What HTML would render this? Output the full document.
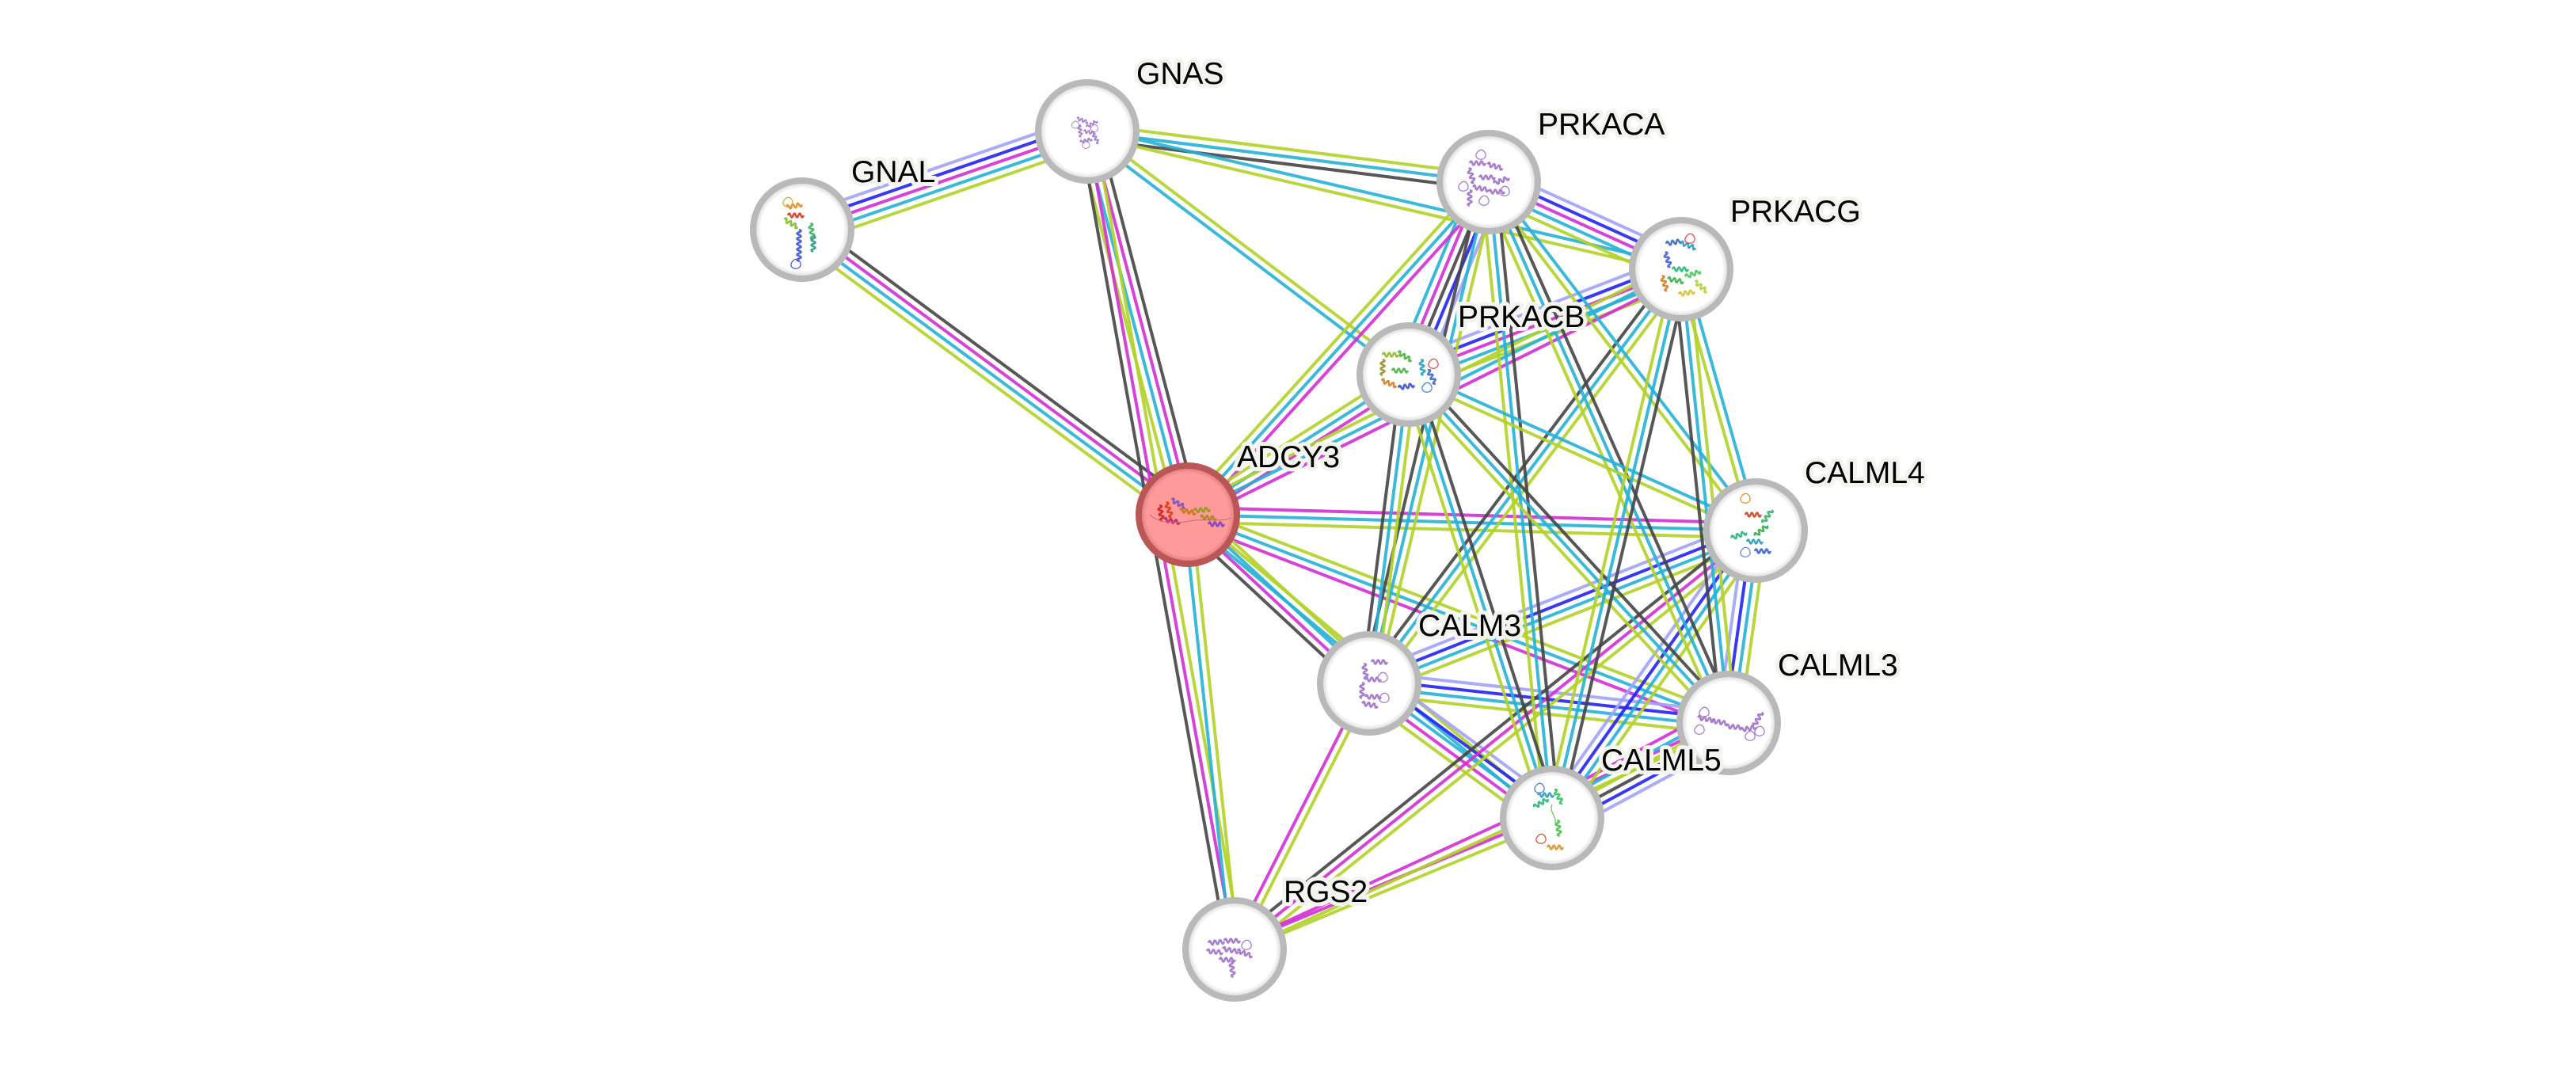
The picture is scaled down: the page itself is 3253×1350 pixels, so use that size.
<!DOCTYPE html>
<html><head><meta charset="utf-8"><style>
html,body{margin:0;padding:0;background:#fff;}
svg{display:block;}
.e line{stroke-width:4;stroke-opacity:.9;}
.g{stroke:#b3d12a}.c{stroke:#27b1d4}.m{stroke:#d02fd3}.k{stroke:#454545}.b{stroke:#2222f4}.l{stroke:#a2a2fc}
.lab{font-family:"Liberation Sans",Arial,sans-serif;font-size:39px;fill:#000;stroke:#f4f4ef;stroke-width:10;stroke-linejoin:round;paint-order:stroke;}
</style></head><body>
<svg width="3253" height="1350" viewBox="0 0 3253 1350" xmlns="http://www.w3.org/2000/svg">
<defs>
<radialGradient id="ng"><stop offset="0.84" stop-color="#ffffff"/><stop offset="0.935" stop-color="#e0e0e0"/></radialGradient>
<radialGradient id="ag"><stop offset="0.84" stop-color="#ff9a9a"/><stop offset="0.935" stop-color="#e58282"/></radialGradient>
<path id="hx" d="M-10 0q1.7-5 3.3 0t3.3 0t3.3 0t3.3 0t3.3 0t3.3 0" fill="none" stroke-width="2.6"/>
<path id="lp" d="M-8 -4c6-8 14 4 8 8s-14-2-8-8" fill="none" stroke-width="1.3"/>
</defs>
<rect width="3253" height="1350" fill="#fff"/>

<g class="e">
<!-- GNAL-GNAS -->
<g transform="translate(1013 290) rotate(-19.0)"><line x2="380.8" y1="-18.6" y2="-18.6" class="l"/><line x2="380.8" y1="-9.3" y2="-9.3" class="b"/><line x2="380.8" class="m"/><line x2="380.8" y1="9.3" y2="9.3" class="c"/><line x2="380.8" y1="18.6" y2="18.6" class="g"/></g>
<!-- GNAL-ADCY3 -->
<g transform="translate(1013 290) rotate(36.47)"><line x2="605.6" y1="-13.95" y2="-13.95" class="k"/><line x2="605.6" y1="-4.65" y2="-4.65" class="m"/><line x2="605.6" y1="4.65" y2="4.65" class="c"/><line x2="605.6" y1="13.95" y2="13.95" class="g"/></g>
<!-- GNAS-ADCY3 -->
<g transform="translate(1373 166) rotate(75.30)"><line x2="500.4" y1="-13.95" y2="-13.95" class="k"/><line x2="500.4" y1="-4.65" y2="-4.65" class="m"/><line x2="500.4" y1="4.65" y2="4.65" class="c"/><line x2="500.4" y1="13.95" y2="13.95" class="g"/></g>
<!-- GNAS-RGS2 -->
<g transform="translate(1373 166) rotate(79.79)"><line x2="1049.6" y1="-9.3" y2="-9.3" class="g"/><line x2="1049.6" class="m"/><line x2="1049.6" y1="9.3" y2="9.3" class="k"/></g>
<!-- ADCY3-RGS2 -->
<g transform="translate(1500 650) rotate(83.87)"><line x2="552.2" y1="-4.65" y2="-4.65" class="g"/><line x2="552.2" y1="4.65" y2="4.65" class="c"/></g>
<!-- GNAS-PRKACA -->
<g transform="translate(1373 166) rotate(7.19)"><line x2="511" y1="-9.3" y2="-9.3" class="g"/><line x2="511" class="c"/><line x2="511" y1="9.3" y2="9.3" class="k"/></g>
<!-- GNAS-PRKACG -->
<g transform="translate(1373 166) rotate(13.06)"><line x2="769.9" y1="-4.65" y2="-4.65" class="c"/><line x2="769.9" y1="4.65" y2="4.65" class="g"/></g>
<!-- GNAS-PRKACB -->
<g transform="translate(1373 166) rotate(37.10)"><line x2="509" y1="-4.65" y2="-4.65" class="g"/><line x2="509" y1="4.65" y2="4.65" class="c"/></g>
<!-- PRKACA-PRKACG -->
<g transform="translate(1880 230) rotate(24.36)"><line x2="266.7" y1="-18.6" y2="-18.6" class="l"/><line x2="266.7" y1="-9.3" y2="-9.3" class="b"/><line x2="266.7" class="m"/><line x2="266.7" y1="9.3" y2="9.3" class="c"/><line x2="266.7" y1="18.6" y2="18.6" class="g"/></g>
<!-- PRKACB-PRKACG -->
<g transform="translate(1779 473) rotate(-21.14)"><line x2="368.8" y1="-18.6" y2="-18.6" class="l"/><line x2="368.8" y1="-9.3" y2="-9.3" class="b"/><line x2="368.8" class="m"/><line x2="368.8" y1="9.3" y2="9.3" class="c"/><line x2="368.8" y1="18.6" y2="18.6" class="g"/></g>
<!-- PRKACB-PRKACA -->
<g transform="translate(1779 473) rotate(-67.43)"><line x2="263.2" y1="-18.6" y2="-18.6" class="c"/><line x2="263.2" y1="-9.3" y2="-9.3" class="m"/><line x2="263.2" class="k"/><line x2="263.2" y1="9.3" y2="9.3" class="b"/><line x2="263.2" y1="18.6" y2="18.6" class="l"/></g>
<!-- ADCY3-PRKACA -->
<g transform="translate(1500 650) rotate(-47.86)"><line x2="566.4" y1="-9.3" y2="-9.3" class="g"/><line x2="566.4" class="c"/><line x2="566.4" y1="9.3" y2="9.3" class="m"/></g>
<!-- ADCY3-PRKACB -->
<g transform="translate(1500 650) rotate(-32.39)"><line x2="330.4" y1="-9.3" y2="-9.3" class="g"/><line x2="330.4" class="c"/><line x2="330.4" y1="9.3" y2="9.3" class="m"/></g>
<!-- ADCY3-PRKACG -->
<g transform="translate(1500 650) rotate(-26.45)"><line x2="695.9" y1="-9.3" y2="-9.3" class="g"/><line x2="695.9" class="c"/><line x2="695.9" y1="9.3" y2="9.3" class="m"/></g>
<!-- ADCY3-CALML4 -->
<g transform="translate(1500 650) rotate(1.60)"><line x2="717.3" y1="-9.3" y2="-9.3" class="m"/><line x2="717.3" class="c"/><line x2="717.3" y1="9.3" y2="9.3" class="g"/></g>
<!-- ADCY3-CALML3 -->
<g transform="translate(1500 650) rotate(21.06)"><line x2="731.9" y1="-9.3" y2="-9.3" class="g"/><line x2="731.9" class="c"/><line x2="731.9" y1="9.3" y2="9.3" class="m"/></g>
<!-- ADCY3-CALM3 -->
<g transform="translate(1500 650) rotate(42.93)"><line x2="312.7" y1="-13.95" y2="-13.95" class="g"/><line x2="312.7" y1="-4.65" y2="-4.65" class="c"/><line x2="312.7" y1="4.65" y2="4.65" class="m"/><line x2="312.7" y1="13.95" y2="13.95" class="k"/></g>
<!-- ADCY3-CALML5 -->
<g transform="translate(1500 650) rotate(39.78)"><line x2="598.6" y1="-4.65" y2="-4.65" class="g"/><line x2="598.6" y1="4.65" y2="4.65" class="c"/></g>
<!-- CALM3-CALML4 -->
<g transform="translate(1729 863) rotate(-21.58)"><line x2="524.8" y1="-13.95" y2="-13.95" class="l"/><line x2="524.8" y1="-4.65" y2="-4.65" class="b"/><line x2="524.8" y1="4.65" y2="4.65" class="c"/><line x2="524.8" y1="13.95" y2="13.95" class="g"/></g>
<!-- CALM3-CALML3 -->
<g transform="translate(1729 863) rotate(6.28)"><line x2="456.7" y1="-13.95" y2="-13.95" class="l"/><line x2="456.7" y1="-4.65" y2="-4.65" class="b"/><line x2="456.7" y1="4.65" y2="4.65" class="c"/><line x2="456.7" y1="13.95" y2="13.95" class="g"/></g>
<!-- CALM3-CALML5 -->
<g transform="translate(1729 863) rotate(36.35)"><line x2="286.8" y1="-18.6" y2="-18.6" class="l"/><line x2="286.8" y1="-9.3" y2="-9.3" class="b"/><line x2="286.8" class="c"/><line x2="286.8" y1="9.3" y2="9.3" class="m"/><line x2="286.8" y1="18.6" y2="18.6" class="g"/></g>
<!-- CALM3-PRKACA -->
<g transform="translate(1729 863) rotate(-76.58)"><line x2="650.8" y1="-9.3" y2="-9.3" class="k"/><line x2="650.8" class="c"/><line x2="650.8" y1="9.3" y2="9.3" class="g"/></g>
<!-- CALM3-PRKACB -->
<g transform="translate(1729 863) rotate(-82.69)"><line x2="393.2" y1="-9.3" y2="-9.3" class="k"/><line x2="393.2" class="c"/><line x2="393.2" y1="9.3" y2="9.3" class="g"/></g>
<!-- CALM3-PRKACG -->
<g transform="translate(1729 863) rotate(-53.01)"><line x2="654.8" y1="-9.3" y2="-9.3" class="k"/><line x2="654.8" class="c"/><line x2="654.8" y1="9.3" y2="9.3" class="g"/></g>
<!-- RGS2-CALM3 -->
<g transform="translate(1559 1199) rotate(-63.16)"><line x2="376.6" y1="-4.65" y2="-4.65" class="m"/><line x2="376.6" y1="4.65" y2="4.65" class="g"/></g>
<!-- RGS2-CALML4 -->
<g transform="translate(1559 1199) rotate(-38.80)"><line x2="844.3" y1="-9.3" y2="-9.3" class="k"/><line x2="844.3" class="m"/><line x2="844.3" y1="9.3" y2="9.3" class="g"/></g>
<!-- RGS2-CALML5 -->
<g transform="translate(1559 1199) rotate(-22.49)"><line x2="434" y1="-4.65" y2="-4.65" class="m"/><line x2="434" y1="4.65" y2="4.65" class="g"/></g>
<!-- RGS2-CALML3 -->
<g transform="translate(1559 1199) rotate(-24.63)"><line x2="686.4" y1="-4.65" y2="-4.65" class="m"/><line x2="686.4" y1="4.65" y2="4.65" class="g"/></g>
<!-- CALML5-CALML3 -->
<g transform="translate(1960 1033) rotate(-28.28)"><line x2="253.2" y1="-23.25" y2="-23.25" class="m"/><line x2="253.2" y1="-13.95" y2="-13.95" class="c"/><line x2="253.2" y1="-4.65" y2="-4.65" class="g"/><line x2="253.2" y1="4.65" y2="4.65" class="k"/><line x2="253.2" y1="13.95" y2="13.95" class="b"/><line x2="253.2" y1="23.25" y2="23.25" class="l"/></g>
<!-- CALML5-CALML4 -->
<g transform="translate(1960 1033) rotate(-54.70)"><line x2="444.8" y1="-13.95" y2="-13.95" class="l"/><line x2="444.8" y1="-4.65" y2="-4.65" class="b"/><line x2="444.8" y1="4.65" y2="4.65" class="c"/><line x2="444.8" y1="13.95" y2="13.95" class="g"/></g>
<!-- CALML3-CALML4 -->
<g transform="translate(2183 913) rotate(-82.04)"><line x2="245.4" y1="-13.95" y2="-13.95" class="l"/><line x2="245.4" y1="-4.65" y2="-4.65" class="b"/><line x2="245.4" y1="4.65" y2="4.65" class="c"/><line x2="245.4" y1="13.95" y2="13.95" class="g"/></g>
<!-- PRKACA-CALML4 -->
<g transform="translate(1880 230) rotate(52.55)"><line x2="554.2" y1="-4.65" y2="-4.65" class="c"/><line x2="554.2" y1="4.65" y2="4.65" class="g"/></g>
<!-- PRKACA-CALML3 -->
<g transform="translate(1880 230) rotate(66.07)"><line x2="747.2" y1="-9.3" y2="-9.3" class="k"/><line x2="747.2" class="c"/><line x2="747.2" y1="9.3" y2="9.3" class="g"/></g>
<!-- PRKACA-CALML5 -->
<g transform="translate(1880 230) rotate(84.31)"><line x2="807" y1="-9.3" y2="-9.3" class="k"/><line x2="807" class="c"/><line x2="807" y1="9.3" y2="9.3" class="g"/></g>
<!-- PRKACB-CALML4 -->
<g transform="translate(1779 473) rotate(24.22)"><line x2="480.3" y1="-4.65" y2="-4.65" class="c"/><line x2="480.3" y1="4.65" y2="4.65" class="g"/></g>
<!-- PRKACB-CALML3 -->
<g transform="translate(1779 473) rotate(47.44)"><line x2="597.3" y1="-9.3" y2="-9.3" class="k"/><line x2="597.3" class="c"/><line x2="597.3" y1="9.3" y2="9.3" class="g"/></g>
<!-- PRKACB-CALML5 -->
<g transform="translate(1779 473) rotate(72.09)"><line x2="588.5" y1="-9.3" y2="-9.3" class="k"/><line x2="588.5" class="c"/><line x2="588.5" y1="9.3" y2="9.3" class="g"/></g>
<!-- PRKACG-CALML4 -->
<g transform="translate(2123 340) rotate(74.10)"><line x2="343.1" y1="-4.65" y2="-4.65" class="c"/><line x2="343.1" y1="4.65" y2="4.65" class="g"/></g>
<!-- PRKACG-CALML3 -->
<g transform="translate(2123 340) rotate(84.02)"><line x2="576.1" y1="-9.3" y2="-9.3" class="g"/><line x2="576.1" class="c"/><line x2="576.1" y1="9.3" y2="9.3" class="k"/></g>
<!-- CALML5-PRKACG -->
<g transform="translate(1960 1033) rotate(-76.76)"><line x2="711.9" y1="-9.3" y2="-9.3" class="g"/><line x2="711.9" class="c"/><line x2="711.9" y1="9.3" y2="9.3" class="k"/></g>
</g>

<!-- nodes -->
<g stroke="#b9b9b9" stroke-width="8" fill="url(#ng)">
<circle cx="1373" cy="166" r="62"/>
<circle cx="1013" cy="290" r="62"/>
<circle cx="1880" cy="230" r="62"/>
<circle cx="2123" cy="340" r="62"/>
<circle cx="1779" cy="473" r="62"/>
<circle cx="2217" cy="670" r="62"/>
<circle cx="1729" cy="863" r="62"/>
<circle cx="2183" cy="913" r="62"/>
<circle cx="1960" cy="1033" r="62"/>
<circle cx="1559" cy="1199" r="62"/>
</g>
<circle cx="1500" cy="650" r="62" fill="url(#ag)" stroke="#ba5656" stroke-width="8"/>

<!-- protein glyphs -->
<!-- GNAS -->
<g transform="translate(1373 164) scale(0.75)" stroke="#a982cf">
<use href="#hx" transform="translate(-8 -16) rotate(20)"/><use href="#hx" transform="translate(8 -10) rotate(-30)"/><use href="#hx" transform="translate(-12 2) rotate(80)"/><use href="#hx" transform="translate(4 4) rotate(10)"/><use href="#hx" transform="translate(-2 18) rotate(-15)"/><use href="#hx" transform="translate(14 14) rotate(60)"/><use href="#lp" transform="translate(-16 -8)"/><use href="#lp" transform="translate(16 -2)"/><use href="#lp" transform="translate(2 26)"/>
</g>
<!-- GNAL -->
<g transform="translate(1013 296)">
<use href="#hx" stroke="#e49a3a" transform="translate(-10 -36) rotate(-10)"/><use href="#hx" stroke="#d94a3a" transform="translate(-8 -24) rotate(0)"/><use href="#hx" stroke="#8cc43e" transform="translate(-14 -14) rotate(30)"/><use href="#hx" stroke="#4bb877" transform="translate(12 -4) rotate(80)"/><use href="#hx" stroke="#3fa48e" transform="translate(14 12) rotate(90)"/><use href="#hx" stroke="#4f63d6" transform="translate(-4 4) rotate(90)"/><use href="#hx" stroke="#4f63d6" transform="translate(-4 24) rotate(90)"/><use href="#lp" stroke="#4f63d6" transform="translate(-4 38)"/><use href="#lp" stroke="#d8b048" transform="translate(-14 -40)"/>
</g>
<!-- PRKACA -->
<g transform="translate(1878 228)" stroke="#a77fcd">
<use href="#hx" transform="translate(-12 -22) rotate(0)"/><use href="#hx" transform="translate(10 -18) rotate(15)"/><use href="#hx" transform="translate(-20 -6) rotate(70)"/><use href="#hx" transform="translate(0 -4) rotate(0)"/><use href="#hx" transform="translate(18 0) rotate(-20)"/><use href="#hx" transform="translate(-8 10) rotate(10)"/><use href="#hx" transform="translate(12 14) rotate(0)"/><use href="#hx" transform="translate(-22 22) rotate(90)"/><use href="#lp" transform="translate(-26 8)"/><use href="#lp" transform="translate(26 14)"/><use href="#lp" transform="translate(0 26)"/><use href="#lp" transform="translate(-4 -32)"/>
</g>
<!-- PRKACG -->
<g transform="translate(2124 340)">
<use href="#hx" stroke="#4f74c8" transform="translate(-10 -34) rotate(-10)"/><use href="#hx" stroke="#3fa6c4" transform="translate(8 -30) rotate(20)"/><use href="#lp" stroke="#e05050" transform="translate(14 -38)"/><use href="#hx" stroke="#5870d8" transform="translate(-18 -12) rotate(70)"/><use href="#hx" stroke="#3fbd88" transform="translate(-2 0) rotate(0)"/><use href="#hx" stroke="#5ccc6a" transform="translate(14 6) rotate(-20)"/><use href="#hx" stroke="#4cb860" transform="translate(-8 14) rotate(10)"/><use href="#hx" stroke="#d98a3a" transform="translate(-22 18) rotate(70)"/><use href="#hx" stroke="#d9c84a" transform="translate(6 30) rotate(-10)"/><use href="#hx" stroke="#b8d84a" transform="translate(24 22) rotate(40)"/>
</g>
<!-- PRKACB -->
<g transform="translate(1782 470)">
<use href="#hx" stroke="#9abf3e" transform="translate(-26 -22) rotate(0)"/><use href="#hx" stroke="#5dbb55" transform="translate(-8 -20) rotate(30)"/><use href="#hx" stroke="#5dbb55" transform="translate(-14 -2) rotate(0)"/><use href="#hx" stroke="#a39a40" transform="translate(-36 -6) rotate(90)"/><use href="#hx" stroke="#d98a3a" transform="translate(-28 14) rotate(20)"/><use href="#hx" stroke="#4f5fd0" transform="translate(-6 18) rotate(-10)"/><use href="#hx" stroke="#3fa6c4" transform="translate(14 -6) rotate(80)"/><use href="#hx" stroke="#4b7ad0" transform="translate(26 6) rotate(60)"/><use href="#lp" stroke="#e05050" transform="translate(32 -10)"/><use href="#lp" stroke="#3f8ad0" transform="translate(24 20)"/>
</g>
<!-- ADCY3 -->
<g transform="translate(1500 650)">
<use href="#hx" stroke="#d22a2a" transform="translate(-34 -2) rotate(80)"/><use href="#hx" stroke="#e0451f" transform="translate(-24 -6) rotate(70)"/><use href="#hx" stroke="#c03070" transform="translate(-20 8) rotate(10)"/><use href="#hx" stroke="#8a58b8" transform="translate(-12 -14) rotate(30)"/><use href="#hx" stroke="#d07a20" transform="translate(0 -4) rotate(10)"/><use href="#hx" stroke="#9a9a2a" transform="translate(18 -6) rotate(-5)"/><use href="#hx" stroke="#b08a20" transform="translate(26 4) rotate(5)"/><use href="#hx" stroke="#8a4ab8" transform="translate(36 12) rotate(0)"/><path d="M-48 0c10 10 30 12 50 8s40 2 52-4" fill="none" stroke="#c07070" stroke-width="1"/>
</g>
<!-- CALML4 -->
<g transform="translate(2214 666)">
<use href="#lp" stroke="#d89a3a" transform="translate(-6 -36)"/><use href="#hx" stroke="#c85a3a" transform="translate(0 -16) rotate(0)"/><use href="#hx" stroke="#4fb87a" transform="translate(18 -14) rotate(-55)"/><use href="#hx" stroke="#48b060" transform="translate(10 4) rotate(-40)"/><use href="#hx" stroke="#3fbd88" transform="translate(-18 10) rotate(-20)"/><use href="#hx" stroke="#3fa6c4" transform="translate(2 18) rotate(0)"/><use href="#hx" stroke="#4f6fd0" transform="translate(12 30) rotate(0)"/><use href="#lp" stroke="#6a90d0" transform="translate(-6 32)"/>
</g>
<!-- CALM3 -->
<g transform="translate(1738 862)" stroke="#a77fcd">
<use href="#hx" transform="translate(4 -26) rotate(0)"/><use href="#hx" transform="translate(-14 -14) rotate(80)"/><use href="#hx" transform="translate(-4 -4) rotate(0)"/><use href="#hx" transform="translate(-18 10) rotate(90)"/><use href="#hx" transform="translate(-4 18) rotate(0)"/><use href="#hx" transform="translate(-8 28) rotate(10)"/><use href="#lp" transform="translate(12 -6)"/><use href="#lp" transform="translate(14 20)"/>
</g>
<!-- CALML3 -->
<g transform="translate(2186 914)" stroke="#a77fcd">
<use href="#hx" transform="translate(-32 -6) rotate(10)"/><use href="#hx" transform="translate(-14 -2) rotate(10)"/><use href="#hx" transform="translate(4 4) rotate(5)"/><use href="#hx" transform="translate(22 6) rotate(-10)"/><use href="#hx" transform="translate(34 -6) rotate(-60)"/><use href="#lp" transform="translate(-36 8)"/><use href="#lp" transform="translate(40 10)"/><use href="#lp" transform="translate(28 16)"/><use href="#lp" transform="translate(-30 -14)"/>
</g>
<!-- CALML5 -->
<g transform="translate(1958 1034)">
<use href="#lp" stroke="#4f84c8" transform="translate(-10 -38)"/><use href="#hx" stroke="#3fa6c4" transform="translate(-6 -30) rotate(0)"/><use href="#hx" stroke="#3fbd88" transform="translate(-12 -20) rotate(-30)"/><use href="#hx" stroke="#4cc870" transform="translate(10 -28) rotate(60)"/><path d="M2 -18c-4 10 6 14 4 26" fill="none" stroke="#6ac860" stroke-width="1.3"/><use href="#hx" stroke="#5cc460" transform="translate(10 12) rotate(80)"/><use href="#lp" stroke="#d05a3a" transform="translate(-8 26)"/><use href="#hx" stroke="#d8a040" transform="translate(6 36) rotate(0)"/>
</g>
<!-- RGS2 -->
<g transform="translate(1554 1202)" stroke="#a77fcd">
<use href="#hx" transform="translate(-18 -12) rotate(-5)"/><use href="#hx" transform="translate(2 -14) rotate(0)"/><use href="#hx" transform="translate(-20 0) rotate(5)"/><use href="#hx" transform="translate(0 -2) rotate(10)"/><use href="#hx" transform="translate(18 2) rotate(20)"/><use href="#hx" transform="translate(-4 10) rotate(0)"/><use href="#hx" transform="translate(2 22) rotate(80)"/><use href="#lp" transform="translate(24 -8)"/>
</g>

<!-- labels -->
<g class="lab">
<text x="1435" y="106">GNAS</text>
<text x="1075" y="230">GNAL</text>
<text x="1942" y="170">PRKACA</text>
<text x="2185" y="280">PRKACG</text>
<text x="1841" y="413">PRKACB</text>
<text x="1562" y="590">ADCY3</text>
<text x="2279" y="610">CALML4</text>
<text x="1791" y="803">CALM3</text>
<text x="2245" y="853">CALML3</text>
<text x="2022" y="973">CALML5</text>
<text x="1621" y="1139">RGS2</text>
</g>
</svg>
</body></html>
